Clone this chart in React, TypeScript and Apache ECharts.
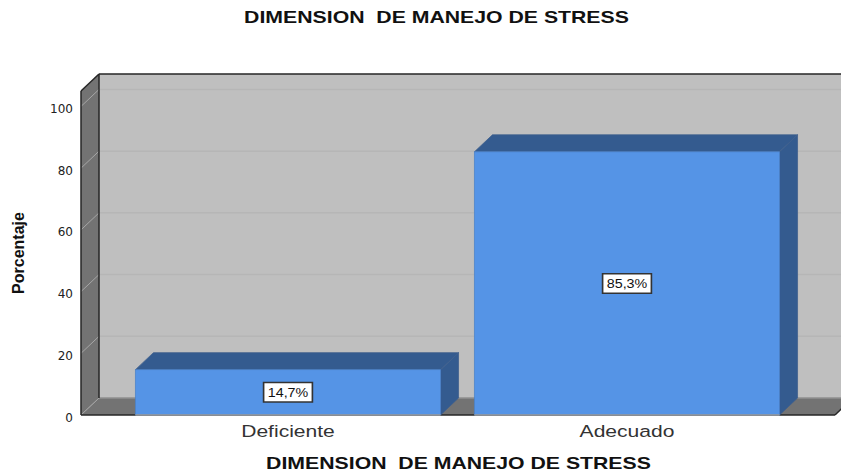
import React, { useEffect, useRef } from "react";
import * as echarts from "echarts";

const categories = ["Deficiente", "Adecuado"];
const percentages = [14.7, 85.3];
const yTicks = [0, 20, 40, 60, 80, 100];
const yMax = 105;
const chartTitle = "DIMENSION  DE MANEJO DE STRESS";
const xAxisTitle = "DIMENSION  DE MANEJO DE STRESS";
const yAxisTitle = "Porcentaje";

const DX = 18;
const DY = 17;
const WALL_LEFT = 81;
const WALL_RIGHT = 835;
const SANS = "Liberation Sans";

export default function App() {
  const ref = useRef<HTMLDivElement>(null);
  useEffect(() => {
    const chart = echarts.init(ref.current!, null, { renderer: "svg" });
    const heading = (text: string, x: number, y: number) => ({
      type: "text",
      x,
      y,
      scaleX: 1.25,
      z: 10,
      style: {
        text,
        align: "center",
        verticalAlign: "middle",
        fontFamily: SANS,
        fontWeight: "bold",
        fontSize: 17,
        fill: "#111",
      },
    });
    chart.setOption({
      animation: false,
      backgroundColor: "#ffffff",
      graphic: [heading(chartTitle, 436.5, 17), heading(xAxisTitle, 458.5, 463)],
      grid: { left: 118.5, top: 91, width: 678, height: 324, outerBoundsMode: "none" },
      xAxis: {
        type: "category",
        data: categories,
        axisLine: { show: false },
        axisTick: { show: false },
        axisLabel: { show: false },
      },
      yAxis: {
        type: "value",
        min: 0,
        max: yMax,
        interval: 20,
        offset: 37.5,
        splitLine: { show: false },
        axisLine: { show: false },
        axisTick: { show: false },
        axisLabel: {
          margin: 8,
          showMaxLabel: false,
          formatter: (v: number) => `{t|${v}}`,
          rich: {
            t: {
              fontFamily: "DejaVu Sans",
              fontSize: 12,
              color: "#222",
              padding: [5, 0, 0, 0],
            },
          },
        },
        name: yAxisTitle,
        nameLocation: "middle",
        nameGap: 55,
        nameRotate: 90,
        nameTextStyle: { fontFamily: SANS, fontWeight: "bold", fontSize: 16, color: "#111" },
      },
      series: [
        {
          type: "custom",
          z: 1,
          silent: true,
          data: [[0, yMax]],
          renderItem: (_p: any, api: any) => {
            const y0 = api.coord([0, 0])[1];
            const yT = api.coord([0, yMax])[1];
            const L = WALL_LEFT;
            const R = WALL_RIGHT;
            return {
              type: "group",
              children: [
                {
                  type: "polygon",
                  shape: { points: [[L + DX, yT - DY], [R + DX + 10, yT - DY], [R + DX + 10, y0 - DY], [L + DX, y0 - DY]] },
                  style: { fill: "#bfbfbf", stroke: "none" },
                },
                {
                  type: "polygon",
                  shape: { points: [[L, y0], [L + DX, y0 - DY], [R + DX, y0 - DY], [R, y0]] },
                  style: { fill: "#737373", stroke: "none" },
                },
                {
                  type: "polygon",
                  shape: { points: [[L, y0], [L, yT], [L + DX, yT - DY], [L + DX, y0 - DY]] },
                  style: { fill: "#737373", stroke: "none" },
                },
              ],
            };
          },
        },
        {
          type: "custom",
          z: 2,
          silent: true,
          data: yTicks.map((t) => [0, t]),
          renderItem: (_p: any, api: any) => {
            const y = api.coord([0, api.value(1)])[1];
            const L = WALL_LEFT;
            const children: any[] = [
              {
                type: "line",
                shape: { x1: L, y1: y, x2: L + DX, y2: y - DY },
                style: { stroke: "#a6a6a6", lineWidth: 1 },
              },
            ];
            if (api.value(1) > 0) {
              children.push({
                type: "line",
                shape: { x1: L + DX, y1: y - DY, x2: WALL_RIGHT + DX + 10, y2: y - DY },
                style: { stroke: "#b6b6b6", lineWidth: 1.5 },
              });
            }
            return { type: "group", children };
          },
        },
        {
          type: "custom",
          z: 3,
          silent: true,
          data: [[0, yMax]],
          renderItem: (_p: any, api: any) => {
            const y0 = api.coord([0, 0])[1];
            const yT = api.coord([0, yMax])[1];
            const L = WALL_LEFT;
            const R = WALL_RIGHT;
            const dark = { stroke: "#262626", lineWidth: 1.5 };
            return {
              type: "group",
              children: [
                { type: "line", shape: { x1: L + DX, y1: y0 - DY, x2: R + DX, y2: y0 - DY }, style: { stroke: "#8f8f8f", lineWidth: 1.5 } },
                { type: "line", shape: { x1: L, y1: y0, x2: L, y2: yT }, style: dark },
                { type: "line", shape: { x1: L, y1: yT, x2: L + DX, y2: yT - DY }, style: dark },
                { type: "line", shape: { x1: L + DX, y1: yT - DY, x2: R + DX + 10, y2: yT - DY }, style: dark },
                { type: "line", shape: { x1: L + DX, y1: yT - DY, x2: L + DX, y2: y0 - DY }, style: dark },
                { type: "line", shape: { x1: L, y1: y0, x2: R, y2: y0 }, style: dark },
                { type: "line", shape: { x1: R, y1: y0, x2: R + DX, y2: y0 - DY }, style: dark },
              ],
            };
          },
        },
        {
          type: "custom",
          z: 4,
          silent: true,
          encode: { x: 0, y: 1 },
          data: percentages.map((v, i) => [i, v]),
          renderItem: (_p: any, api: any) => {
            const idx = api.value(0);
            const [cx, yTop] = api.coord([idx, api.value(1)]);
            const y0 = api.coord([idx, 0])[1];
            const w = api.size([1, 0])[0] * 0.9;
            const l = cx - w / 2;
            const r = cx + w / 2;
            const edge = { stroke: "#3f5f8c", lineWidth: 0.75 };
            const label = `${Number(api.value(1)).toFixed(1).replace(".", ",")}%`;
            return {
              type: "group",
              children: [
                {
                  type: "polygon",
                  shape: { points: [[l, yTop], [l + DX, yTop - DY], [r + DX, yTop - DY], [r, yTop]] },
                  style: { fill: "#345b8f", ...edge },
                },
                {
                  type: "polygon",
                  shape: { points: [[r, yTop], [r + DX, yTop - DY], [r + DX, y0 - DY], [r, y0]] },
                  style: { fill: "#345b8f", ...edge },
                },
                {
                  type: "rect",
                  shape: { x: l, y: yTop, width: w, height: y0 - yTop },
                  style: { fill: "#5594e6", stroke: "#4a80c8", lineWidth: 0.75 },
                },
                {
                  type: "line",
                  shape: { x1: l, y1: y0, x2: r, y2: y0 },
                  style: { stroke: "#9a9a9a", lineWidth: 1.5 },
                },
                {
                  type: "text",
                  x: cx,
                  y: (yTop + y0) / 2,
                  scaleX: 1.1,
                  style: {
                    text: label,
                    align: "center",
                    verticalAlign: "middle",
                    fontFamily: SANS,
                    fontSize: 13,
                    fill: "#111",
                    backgroundColor: "#ffffff",
                    borderColor: "#333333",
                    borderWidth: 1.5,
                    padding: [3, 3, 2, 3],
                  },
                },
                {
                  type: "text",
                  x: cx,
                  y: y0 + 16,
                  scaleX: 1.24,
                  style: {
                    text: categories[idx],
                    align: "center",
                    verticalAlign: "middle",
                    fontFamily: SANS,
                    fontSize: 17,
                    fill: "#333",
                  },
                },
              ],
            };
          },
        },
      ],
    });
    return () => chart.dispose();
  }, []);
  return <div ref={ref} style={{ position: "absolute", left: 0, top: 0, width: 841, height: 475 }} />;
}
